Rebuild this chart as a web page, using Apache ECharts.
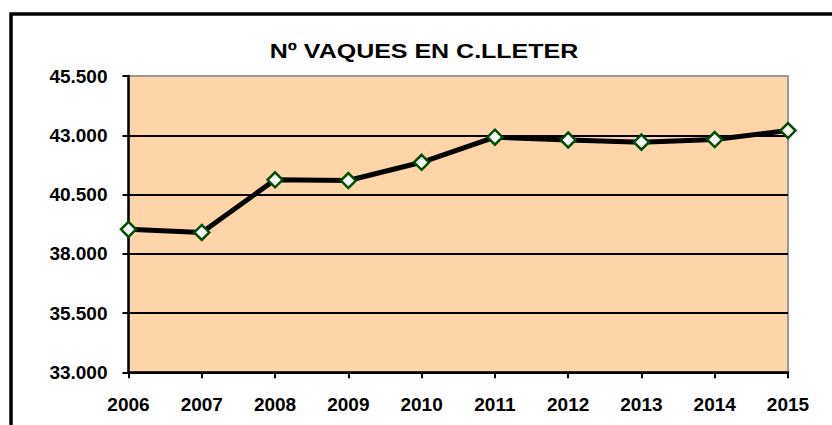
<!DOCTYPE html>
<html>
<head>
<meta charset="utf-8">
<script src="https://cdn.jsdelivr.net/npm/echarts@6/dist/echarts.min.js"></script>
<style>
html,body{margin:0;padding:0;background:#fff;}
#chart{width:832px;height:425px;}
</style>
</head>
<body>
<div id="chart"></div>
<script>
const titleText = 'Nº VAQUES EN C.LLETER';
const years = ['2006','2007','2008','2009','2010','2011','2012','2013','2014','2015'];
const cows = [39030, 38900, 41120, 41090, 41860, 42920, 42800, 42710, 42820, 43200];
const yMin = 33000, yMax = 45500, yStep = 2500;

const FONT = '"Liberation Sans", Arial, sans-serif';
function fmt(v){ return String(Math.round(v)).replace(/\B(?=(\d{3})+(?!\d))/g, '.'); }

const chart = echarts.init(document.getElementById('chart'), null, {renderer:'svg'});
chart.setOption({
  animation:false,
  backgroundColor:'#fff',
  graphic:[
    {type:'rect', z:0, shape:{x:11, y:14, width:900, height:500},
     style:{fill:'none', stroke:'#000', lineWidth:3.5}},
    {type:'text', x:424, y:51, scaleX:1.25, z:10,
     style:{text:titleText, x:0, y:0, align:'center', verticalAlign:'middle',
            font:'bold 20px ' + FONT, fill:'#000'}}
  ],
  grid:{left:128.5, top:76, right:44, bottom:52.7, show:true,
        backgroundColor:'#FED4A9', borderColor:'#999', borderWidth:2},
  xAxis:{type:'category', data:years, boundaryGap:false,
    axisLine:{lineStyle:{color:'#000', width:2.5}},
    axisTick:{show:true, length:6, lineStyle:{color:'#000', width:2}, alignWithLabel:true},
    axisLabel:{color:'#000', fontSize:19, fontWeight:'bold', fontFamily:FONT, margin:23, interval:0},
    splitLine:{show:false}},
  yAxis:{type:'value', min:yMin, max:yMax, interval:yStep,
    axisLine:{show:true, lineStyle:{color:'#000', width:2.5}},
    axisTick:{show:true, length:6, lineStyle:{color:'#000', width:2}},
    axisLabel:{color:'#000', fontSize:19, fontWeight:'bold', fontFamily:FONT, margin:21, formatter:fmt},
    splitLine:{show:true, showMaxLine:false, lineStyle:{color:'#000', width:2}}},
  series:[{
    type:'line', data:cows,
    lineStyle:{color:'#000', width:5},
    symbol:'diamond', symbolSize:15, showSymbol:true,
    itemStyle:{color:'#fff', borderColor:'#004d00', borderWidth:2.5},
    z:5
  }]
});
</script>
</body>
</html>
